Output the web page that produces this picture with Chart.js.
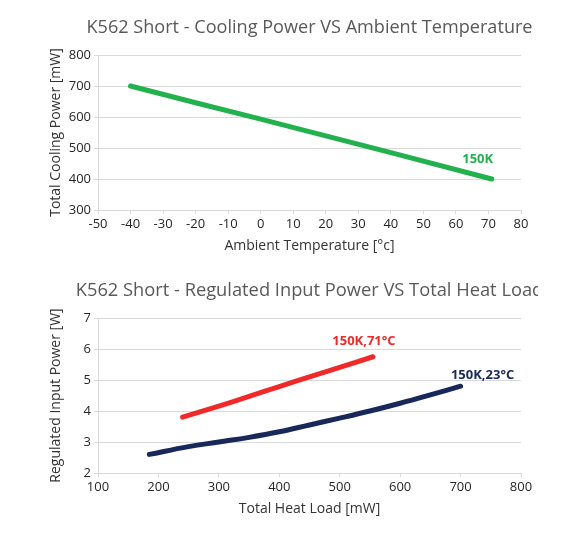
<!DOCTYPE html>
<html>
<head>
<meta charset="utf-8">
<script src="https://cdn.jsdelivr.net/npm/chart.js@4.4.0/dist/chart.umd.min.js"></script>
<style>
html, body { margin: 0; padding: 0; background: #fff; }
#top { position: absolute; left: 0; top: 0; width: 587px; height: 270px; }
#bottomWrap { position: absolute; left: 0; top: 270px; width: 538px; height: 263px; overflow: hidden; }
#bottom { position: absolute; left: 0; top: 0; width: 587px; height: 263px; }
</style>
</head>
<body>
<div id="top"><canvas id="c1"></canvas></div>
<div id="bottomWrap"><div id="bottom"><canvas id="c2"></canvas></div></div>
<script>
// chart 1: cooling power vs ambient temperature
const ambientTemp = [-40, -20, 0, 20, 40, 71];
const coolingPower = [700, 646, 593, 539, 485, 400];
const tempTicks = [-50, 80, 10];
const powerTicks = [300, 800, 100];

// chart 2: regulated input power vs total heat load
const heatLoad71 = [240, 300, 350, 400, 450, 500, 555];
const inputPower71 = [3.8, 4.16, 4.47, 4.79, 5.1, 5.41, 5.75];
const heatLoad23 = [185, 250, 300, 350, 400, 450, 500, 550, 600, 650, 700];
const inputPower23 = [2.6, 2.85, 3.0, 3.15, 3.33, 3.55, 3.77, 4.0, 4.25, 4.52, 4.8];
const loadTicks = [100, 800, 100];
const inputTicks = [2, 7, 1];

const FONT = "'Open Sans', 'Noto Sans', sans-serif";
const gridColor = '#d9d9d9';

// draws the series name next to the last point of each line
const endLabels = {
  id: 'endLabels',
  afterDatasetsDraw(chart, args, opts) {
    const ctx = chart.ctx;
    (opts.items || []).forEach(function(item) {
      const pts = chart.getDatasetMeta(item.dataset).data;
      const p = pts[pts.length - 1];
      ctx.save();
      ctx.font = 'bold 13px ' + FONT;
      ctx.fillStyle = item.color;
      ctx.textAlign = 'center';
      ctx.textBaseline = 'middle';
      ctx.fillText(item.text, p.x + item.dx, p.y + item.dy);
      ctx.restore();
    });
  }
};

// title centred over the plot area, not squeezed to its width
const plotTitle = {
  id: 'plotTitle',
  afterDraw(chart, args, opts) {
    const ctx = chart.ctx;
    const area = chart.chartArea;
    ctx.save();
    ctx.font = opts.size + 'px ' + FONT;
    ctx.fillStyle = '#595959';
    ctx.textAlign = 'center';
    ctx.textBaseline = 'middle';
    ctx.fillText(opts.text, (area.left + area.right) / 2, opts.y);
    ctx.restore();
  }
};

function toXY(xs, ys) {
  return xs.map((x, i) => ({ x: x, y: ys[i] }));
}

function makeScales(xr, yr, xTitle, yTitle) {
  return {
    x: {
      type: 'linear',
      min: xr[0], max: xr[1],
      ticks: { stepSize: xr[2], color: '#262626', padding: 2, font: { family: FONT, size: 13 } },
      grid: { drawOnChartArea: false, drawTicks: true, tickLength: 4, color: gridColor },
      border: { color: gridColor },
      title: { display: true, text: xTitle, color: '#333', font: { family: FONT, size: 14 }, padding: { top: 0, bottom: 6 } },
      afterFit(axis) { axis.height = 50; }
    },
    y: {
      min: yr[0], max: yr[1],
      ticks: { stepSize: yr[2], color: '#262626', padding: 3, font: { family: FONT, size: 13 } },
      grid: { drawTicks: true, tickLength: 4, color: gridColor },
      border: { color: gridColor },
      title: { display: true, text: yTitle, color: '#333', font: { family: FONT, size: 14 }, padding: { top: 8, bottom: 0 } },
      afterFit(axis) { axis.width = 58; }
    }
  };
}

new Chart(document.getElementById('c1'), {
  type: 'line',
  plugins: [endLabels, plotTitle],
  data: {
    datasets: [{
      label: '150K',
      data: toXY(ambientTemp, coolingPower),
      borderColor: '#22b14c',
      borderWidth: 5,
      borderCapStyle: 'round',
      pointRadius: 0,
      tension: 0
    }]
  },
  options: {
    responsive: true,
    maintainAspectRatio: false,
    animation: false,
    layout: { padding: { left: 40, right: 66, top: 55, bottom: 10 } },
    plugins: {
      legend: { display: false },
      tooltip: { enabled: false },
      plotTitle: { text: 'K562 Short - Cooling Power VS Ambient Temperature', size: 18.1, y: 28 },
      endLabels: { items: [{ dataset: 0, text: '150K', color: '#22b14c', dx: -14, dy: -20 }] }
    },
    scales: makeScales(tempTicks, powerTicks, 'Ambient Temperature [°c]', 'Total Cooling Power [mW]')
  }
});

new Chart(document.getElementById('c2'), {
  type: 'line',
  plugins: [endLabels, plotTitle],
  data: {
    datasets: [{
      label: '150K,71°C',
      data: toXY(heatLoad71, inputPower71),
      borderColor: '#f02a2a',
      borderWidth: 5,
      borderCapStyle: 'round',
      pointRadius: 0,
      tension: 0.4
    }, {
      label: '150K,23°C',
      data: toXY(heatLoad23, inputPower23),
      borderColor: '#182858',
      borderWidth: 5,
      borderCapStyle: 'round',
      pointRadius: 0,
      tension: 0.4
    }]
  },
  options: {
    responsive: true,
    maintainAspectRatio: false,
    animation: false,
    layout: { padding: { left: 40, right: 66, top: 48, bottom: 10 } },
    plugins: {
      legend: { display: false },
      tooltip: { enabled: false },
      plotTitle: { text: 'K562 Short - Regulated Input Power VS Total Heat Load', size: 18.3, y: 21 },
      endLabels: { items: [
        { dataset: 0, text: '150K,71°C', color: '#f02a2a', dx: -9, dy: -15 },
        { dataset: 1, text: '150K,23°C', color: '#182858', dx: 22, dy: -11 }
      ] }
    },
    scales: makeScales(loadTicks, inputTicks, 'Total Heat Load [mW]', 'Regulated Input Power [W]')
  }
});
</script>
</body>
</html>
